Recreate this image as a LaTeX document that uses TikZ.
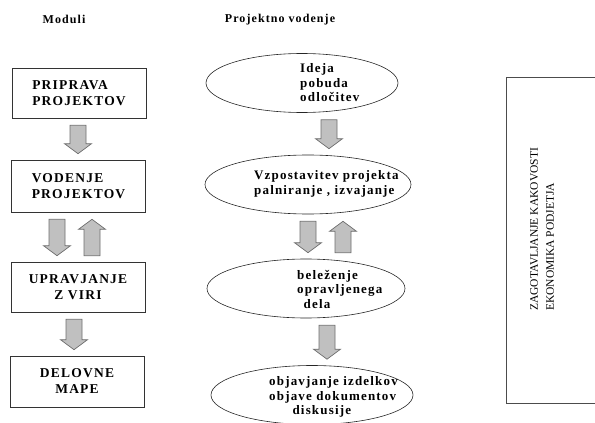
\documentclass[tikz,border=0pt]{standalone}
\usepackage{fontspec}
\setmainfont{Liberation Serif}
\newfontfamily\labelfont{Liberation Serif}[LetterSpace=9]
\usetikzlibrary{shapes,calc}
\definecolor{arrowfill}{RGB}{192,192,192}
\definecolor{arrowline}{RGB}{110,110,110}

\tikzset{
  heading/.style={font=\labelfont\bfseries\fontsize{12}{14}\selectfont, inner sep=0pt},
  module/.style={draw=black!80, line width=0.6pt, minimum width=134pt, minimum height=50pt,
    inner sep=2pt, align=center, font=\labelfont\bfseries\fontsize{13.5}{16}\selectfont},
  phase/.style={ellipse, draw=black!85, line width=0.6pt, minimum height=59pt, inner sep=0pt},
  phasetext/.style={align=left, inner sep=0pt, anchor=west,
    font=\labelfont\bfseries\fontsize{13}{14.5}\selectfont},
  blockarrow/.style={fill=arrowfill, draw=arrowline, line width=0.7pt}
}

% block arrow between two stacked nodes, #1 = sideways shift
\newcommand{\flowdown}[3][0]{%
  \filldraw[blockarrow] let \p1=($(#2.south)+(#1,0)$), \p2=(#3.north) in
    (\x1-8pt,\y1-7pt) -- (\x1+8pt,\y1-7pt) -- (\x1+8pt,\y2+16pt)
    -- (\x1+13.5pt,\y2+16pt) -- (\x1,\y2+6pt) -- (\x1-13.5pt,\y2+16pt)
    -- (\x1-8pt,\y2+16pt) -- cycle;}
\newcommand{\flowup}[3][0]{%
  \filldraw[blockarrow] let \p1=($(#2.south)+(#1,0)$), \p2=(#3.north) in
    (\x1-8pt,\y2+6pt) -- (\x1+8pt,\y2+6pt) -- (\x1+8pt,\y1-17pt)
    -- (\x1+13.5pt,\y1-17pt) -- (\x1,\y1-7pt) -- (\x1-13.5pt,\y1-17pt)
    -- (\x1-8pt,\y1-17pt) -- cycle;}

\begin{document}
\begin{tikzpicture}[x=1pt, y=-1pt]
    \useasboundingbox (0,0) rectangle (595,423);
    \clip (0,0) rectangle (595,423);

    % Headings
    \node[heading, anchor=base] (moduli) at (64,23.5) {Moduli};
    \node[heading, anchor=base] (vodenje) at (280,22.5) {Projektno vodenje};

    % Modules
    \node[module, align=left] (priprava) at (79,93) {PRIPRAVA\\PROJEKTOV};
    \node[module, align=left, minimum height=52pt] (vodenjeprj) at (78.5,186) {VODENJE\\PROJEKTOV};
    \node[module] (viri) at (78,287) {UPRAVJANJE\\Z VIRI};
    \node[module, minimum height=51pt] (mape) at (77,381.5) {DELOVNE\\MAPE};

    \flowdown[-1]{priprava}{vodenjeprj}
    \flowdown[-21.5]{vodenjeprj}{viri}
    \flowup[13.5]{vodenjeprj}{viri}
    \flowdown[-4]{viri}{mape}

    % Project phases
    \node[phase, minimum width=192pt] (ideja) at (302,83) {};
    \node[phase, minimum width=206pt] (vzpostavitev) at (308,184.5) {};
    \node[phase, minimum width=198pt] (belezenje) at (306,288.5) {};
    \node[phase, minimum width=202pt] (objave) at (312,395) {};

    \node[phasetext] (ideja-t) at (300,83) {Ideja\\pobuda\\odločitev};
    \node[phasetext] (vzpostavitev-t) at (254,184) {Vzpostavitev projekta\\palniranje , izvajanje};
    \node[phasetext] (belezenje-t) at (297,289) {beleženje\\opravljenega\\\hspace*{0.5em}dela};
    \node[phasetext] (objave-t) at (269,397) {objavjanje izdelkov\\objave dokumentov\\\hspace*{1.8em}diskusije};

    \flowdown[27]{ideja}{vzpostavitev}
    \flowdown[0]{vzpostavitev}{belezenje}
    \flowup[35]{vzpostavitev}{belezenje}
    \flowdown[21]{belezenje}{objave}

    % Quality frame on the right
    \node[draw=black!70, line width=1.4pt, minimum width=120pt, minimum height=326pt,
          anchor=north west, inner sep=0pt] (kakovost) at (506,77) {};
    \node[rotate=90, anchor=north west, align=left, inner sep=0pt,
          font=\fontsize{11.5}{16}\selectfont] (kakovost-t) at (530,311)
          {ZAGOTAVLJANJE KAKOVOSTI\\EKONOMIKA PODJETJA};
\end{tikzpicture}
\end{document}
